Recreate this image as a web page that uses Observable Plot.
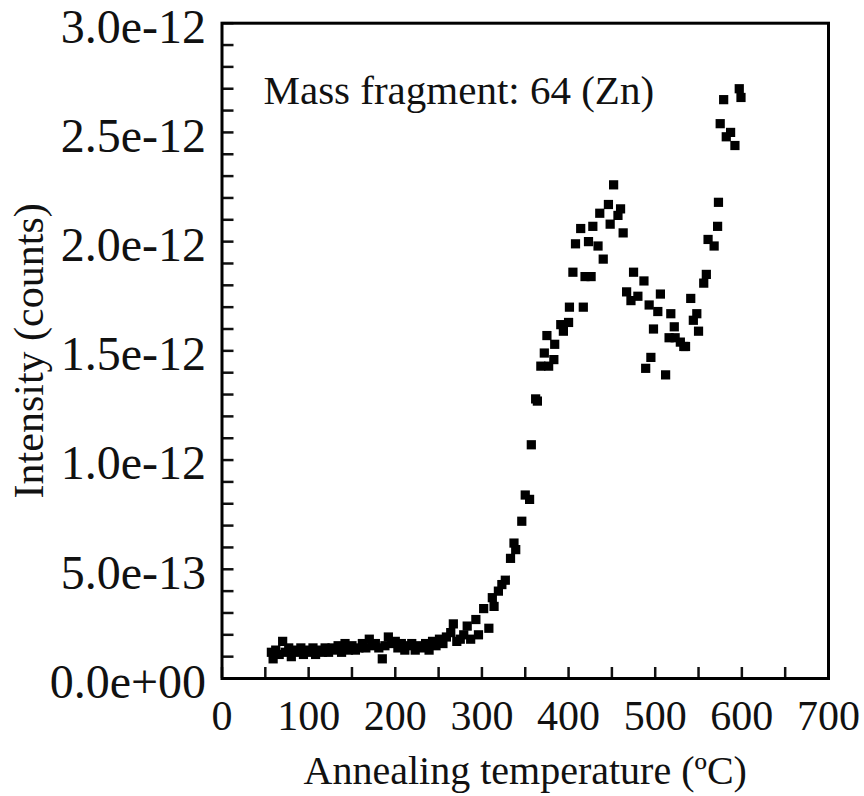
<!DOCTYPE html>
<html>
<head>
<meta charset="utf-8">
<script src="https://cdn.jsdelivr.net/npm/d3@7"></script>
<script src="https://cdn.jsdelivr.net/npm/@observablehq/plot@0.6"></script>
<style>
  html, body { margin: 0; padding: 0; background: #fff; }
</style>
</head>
<body>
<div id="chart"></div>
<script>
// Annealing temperature (°C)
const temperature = [
  57, 59, 62, 66, 70, 73, 77, 80, 84, 87, 91, 94, 98, 101, 105, 108, 112, 116, 119, 123,
  127, 130, 134, 138, 142, 146, 150, 154, 158, 162, 166, 170, 173, 177, 181, 185, 188, 192, 196, 200,
  203, 207, 211, 215, 219, 223, 227, 231, 235, 239, 243, 247, 251, 255, 259, 264, 267, 271, 275, 279,
  283, 287, 293, 296, 302, 308, 312, 314, 319, 323, 327, 333, 337, 339, 346, 350, 355, 357, 362, 364,
  368, 372, 375, 377, 383, 384, 391, 394, 400, 401, 405, 408, 414, 417, 419, 423, 426, 428, 434, 436,
  440, 446, 448, 452, 457, 460, 463, 467, 472, 475, 480, 487, 489, 493, 495, 498, 503, 506, 512, 516,
  518, 522, 523, 529, 533, 535, 541, 544, 548, 550, 556, 559, 561, 568, 572, 573, 575, 579, 582, 587,
  592, 597, 599
];
// Intensity, in units of 1e-12 counts
const intensity = [
  0.12, 0.09, 0.13, 0.11, 0.17, 0.12, 0.14, 0.10, 0.13, 0.12, 0.14, 0.11, 0.13, 0.12, 0.14, 0.11, 0.13, 0.12, 0.14, 0.12,
  0.14, 0.13, 0.15, 0.12, 0.16, 0.13, 0.15, 0.13, 0.14, 0.16, 0.14, 0.18, 0.15, 0.16, 0.14, 0.09, 0.15, 0.19, 0.16, 0.17,
  0.14, 0.16, 0.13, 0.15, 0.16, 0.13, 0.15, 0.14, 0.16, 0.13, 0.17, 0.15, 0.18, 0.16, 0.19, 0.21, 0.25, 0.17, 0.18, 0.20,
  0.24, 0.18, 0.27, 0.20, 0.32, 0.23, 0.37, 0.33, 0.40, 0.43, 0.45, 0.55, 0.62, 0.59, 0.72, 0.84, 0.82, 1.07, 1.28, 1.27,
  1.43, 1.49, 1.57, 1.43, 1.46, 1.53, 1.62, 1.59, 1.63, 1.70, 1.86, 1.99, 2.06, 1.70, 1.84, 2.00, 1.84, 2.07, 1.98, 2.13,
  1.92, 2.17, 2.08, 2.26, 2.12, 2.15, 2.04, 1.77, 1.73, 1.86, 1.75, 1.82, 1.42, 1.71, 1.47, 1.60, 1.68, 1.76, 1.39, 1.56,
  1.67, 1.61, 1.56, 1.54, 1.52, 1.52, 1.74, 1.64, 1.67, 1.59, 1.81, 1.85, 2.01, 1.98, 2.07, 2.18, 2.54, 2.65, 2.48, 2.50,
  2.44, 2.70, 2.66
];
const UNIT = 1e-12;

const xTickLabels = [0, 100, 200, 300, 400, 500, 600, 700];
const xMinorTicks = [0, 50, 100, 150, 200, 250, 300, 350, 400, 450, 500, 550, 600, 650, 700];
const yTickLabels = [0, 0.5e-12, 1.0e-12, 1.5e-12, 2.0e-12, 2.5e-12, 3.0e-12];
const yMinorTicks = d3.range(0, 31).map(i => i * 1e-13);

const xTitle = "Annealing temperature (ºC)";
const yTitle = "Intensity (counts)";
const annotation = "Mass fragment: 64 (Zn)";

const data = temperature.map((t, i) => ({t, v: intensity[i] * UNIT}));

const sciFormat = v => d3.format(".1e")(v).replace(/e([+-])(\d)$/, "e$10$2");

const font = "Liberation Serif";

const chart = Plot.plot({
  width: 864,
  height: 796,
  marginLeft: 221.5,
  marginRight: 36,
  marginTop: 22.7,
  marginBottom: 118,
  style: {fontFamily: font, fontSize: "40px", color: "#111", background: "#fff", overflow: "visible"},
  x: {domain: [0, 700]},
  y: {domain: [0, 3e-12]},
  marks: [
    Plot.axisX(xMinorTicks, {tickSize: -11, strokeWidth: 2.5, fill: "none", label: null}),
    Plot.axisX(xTickLabels, {tickSize: 0, tickPadding: 22, tickFormat: d => String(d), label: null, fontSize: 42, fontFamily: font}),
    Plot.axisY(yMinorTicks, {tickSize: -12, strokeWidth: 2.5, fill: "none", label: null}),
    Plot.axisY(yTickLabels, {tickSize: 0, tickPadding: 16, dy: 4, tickFormat: sciFormat, label: null, fontSize: 48, fontFamily: font}),
    Plot.dot(data, {x: "t", y: "v", symbol: "square", r: 5.2, fill: "#000", stroke: "none"}),
    Plot.frame({strokeWidth: 3, stroke: "#000"}),
    Plot.text([annotation], {frameAnchor: "top-left", dx: 41.5, dy: 52, textAnchor: "start", lineAnchor: "top", fontSize: 41, fontFamily: font}),
    Plot.text([xTitle], {frameAnchor: "bottom", dy: 93, textAnchor: "middle", lineAnchor: "middle", fontSize: 40, fontFamily: font}),
    Plot.text([yTitle], {frameAnchor: "left", rotate: -90, dx: -192, textAnchor: "middle", lineAnchor: "middle", fontSize: 42, fontFamily: font})
  ]
});

document.getElementById("chart").appendChild(chart);
</script>
</body>
</html>
